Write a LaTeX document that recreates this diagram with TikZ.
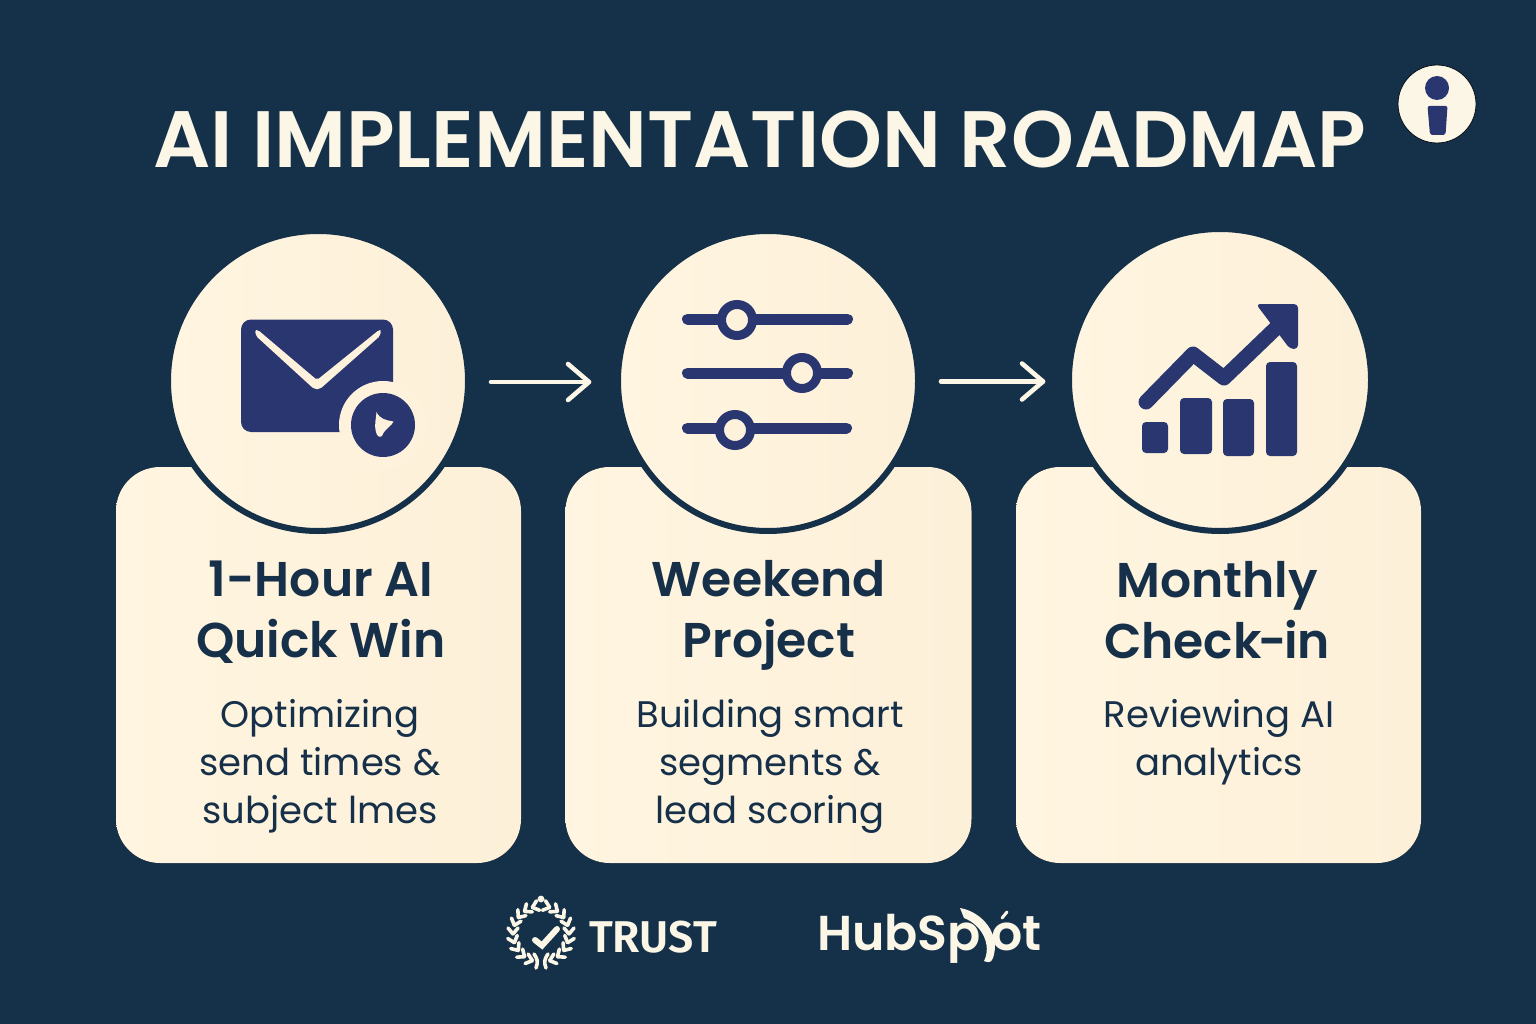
\documentclass[tikz,border=0pt]{standalone}
\usepackage{fontspec}
\setmainfont{Poppins}
\newfontfamily\headfont{Poppins SemiBold}
\newfontfamily\trustfont{Fira Sans SemiBold}
\definecolor{bgnavy}{HTML}{15314A}
\definecolor{creamL}{HTML}{FFF5E0}
\definecolor{creamR}{HTML}{FDF0D9}
\definecolor{cream}{HTML}{FEF2DC}
\definecolor{icon}{HTML}{2A3670}
\definecolor{txt}{HTML}{17304A}
\definecolor{offw}{HTML}{FBF6E6}
\newcommand\hs{\rule[-13pt]{0pt}{46pt}}
\newcommand\bs{\rule[-11pt]{0pt}{33pt}}
\tikzset{
 x=1pt,y=-1pt,
 card/.style={left color=creamL,right color=creamR,draw=none,rounded corners=44pt},
 ringc/.style={circle,left color=creamL,right color=creamR,draw=bgnavy,line width=6pt,inner sep=0pt},
 hd/.style={font=\headfont\fontsize{48.8}{61}\selectfont,text=txt,align=center},
 bd/.style={font=\fontsize{37}{48}\selectfont,text=txt,align=center},
 track/.style={draw=icon,line width=11pt,line cap=round},
 knob/.style={circle,draw=icon,fill=cream,line width=9pt,minimum size=31pt,inner sep=0pt},
 arr/.style={draw=offw,line width=4.6pt,line cap=round,line join=round},
 bar/.style={fill=icon,rounded corners=4pt},
 leaf/.style={draw=offw,line width=3.6pt,line cap=round},
 lg/.style={fill=offw},
}
\begin{document}
\begin{tikzpicture}
\useasboundingbox (0,0) rectangle (1536,1024);
\fill[bgnavy] (0,0) rectangle (1536,1024);
\node[font=\headfont\fontsize{80}{90}\selectfont,text=offw] (title) at (760,139) {AI IMPLEMENTATION ROADMAP};
% info
\node[circle,fill=offw,draw=black!70!bgnavy,line width=.8pt,minimum size=78pt,inner sep=0pt] (info) at (1437,104) {};
\fill[icon] (1437,88) circle (12pt);
\fill[icon,rounded corners=2pt] (1427.5,106) -- (1447.5,106) -- (1445.5,135) -- (1430,135) -- cycle;
% cards
\fill[card] (116,467) rectangle (521,863);
\fill[card] (565.5,467) rectangle (971.5,863);
\fill[card] (1016,467) rectangle (1421,863);
\node[ringc,minimum size=300pt] (c1) at (318,381) {};
\node[ringc,minimum size=300pt] (c2) at (768,381) {};
\node[ringc,minimum size=302pt] (c3) at (1220,380) {};
% connectors
\coordinate (a1s) at (491,382); \coordinate (a1e) at (589,382);
\coordinate (a2s) at (941,381.5); \coordinate (a2e) at (1043,381.5);
\draw[arr] (a1s) -- (a1e);
\draw[arr] (568,364) -- (a1e) -- (568,400);
\draw[arr] (a2s) -- (a2e);
\draw[arr] (1022,363.5) -- (a2e) -- (1022,399.5);
% text
\node[hd] (h1) at (321,616) {\hs 1-Hour AI\\\hs Quick Win};
\node[hd] (h2) at (769,615.5) {\hs Weekend\\\hs Project};
\node[hd] (h3) at (1217,616) {\hs Monthly\\\hs Check\kern-3pt-\kern-3pt in};
\node[bd] (b1) at (320,767) {\bs Optimizing\\\bs send times \&\\\bs subject lmes};
\node[bd] (b2) at (770,766.5) {\bs Building smart\\\bs segments \&\\\bs lead scoring};
\node[bd] (b3) at (1219,742.5) {\bs Reviewing AI\\\bs analytics};
% mail icon
\fill[icon,rounded corners=10pt] (241,319.5) rectangle (393,432);
\fill[cream] (383,425) circle (44pt);
\fill[icon] (383,425) circle (32pt);
\fill[cream] (376.5,412) .. controls (380,419) and (385,420) .. (393.5,421.5) .. controls (392,426) and (385,428) .. (382,436) .. controls (379,438) and (377,436) .. (376,432) .. controls (374,424) and (376,420) .. (376.5,412) -- cycle;
\fill[cream,rounded corners=2pt] (255,330) -- (258,330) -- (317,380) -- (379,330) -- (381,330) -- (380,336) -- (320,389) -- (314,389) -- (256,336) -- cycle;
% sliders
\draw[track] (687.5,319) -- (847.5,319);
\draw[track] (687.5,373) -- (847.5,373);
\draw[track] (687.5,428) -- (846.5,428);
\node[knob] (k1) at (737,320) {};
\node[knob] (k2) at (802,373) {};
\node[knob] (k3) at (735,430) {};
% chart
\fill[bar] (1142,422) rectangle (1168,453);
\fill[bar] (1180,398) rectangle (1212,454);
\fill[bar] (1223,399) rectangle (1254,456);
\fill[bar] (1266,362) rectangle (1297,456);
\draw[icon,line width=15pt,line cap=round,line join=round] (1146,402) -- (1193,354) -- (1224,378) -- (1276,328);
\fill[icon,rounded corners=4pt] (1256,304) -- (1298,304) -- (1298,349) -- (1290,349) -- cycle;
% TRUST wreath
\foreach \a in {108,126,...,252}{
  \begin{scope}[shift={(541,934)},rotate=\a]
   \draw[leaf] (28,0) -- (33,6);
   \draw[leaf] (28,0) -- (23,6);
  \end{scope}
  \begin{scope}[shift={(541,934)},xscale=-1,rotate=\a]
   \draw[leaf] (28,0) -- (33,6);
   \draw[leaf] (28,0) -- (23,6);
  \end{scope}
}
\fill[lg] (541,899) circle (3.4pt);
\draw[leaf] (536,968) .. controls (538,962) and (538,960) .. (534,954);
\draw[leaf] (546,968) .. controls (544,962) and (544,960) .. (548,954);
\coordinate (chkA) at (535,940); \coordinate (chkB) at (542,945.5); \coordinate (chkC) at (557,929);
\draw[offw,line width=6pt,line cap=round,line join=miter] (chkA) -- (chkB) -- (chkC);
\node[font=\trustfont\fontsize{44.5}{50}\selectfont,text=offw,anchor=base west,inner sep=0pt] (trust) at (589,952) {TRUST};
% HubSpot
\node[font=\headfont\fontsize{49}{60}\selectfont,text=offw,anchor=base west,inner sep=0pt] (hub) at (817,950) {HubSp\hspace{10pt}ot};
\fill[lg] (960,908) .. controls (983,912) and (1001,935) .. (993,958) .. controls (991,964) and (987,962) .. (984,961) .. controls (992,945) and (982,925) .. (964,918) -- cycle;
\draw[offw,line width=3pt,line cap=round] (1002,918) -- (1007,912);
\end{tikzpicture}
\end{document}
